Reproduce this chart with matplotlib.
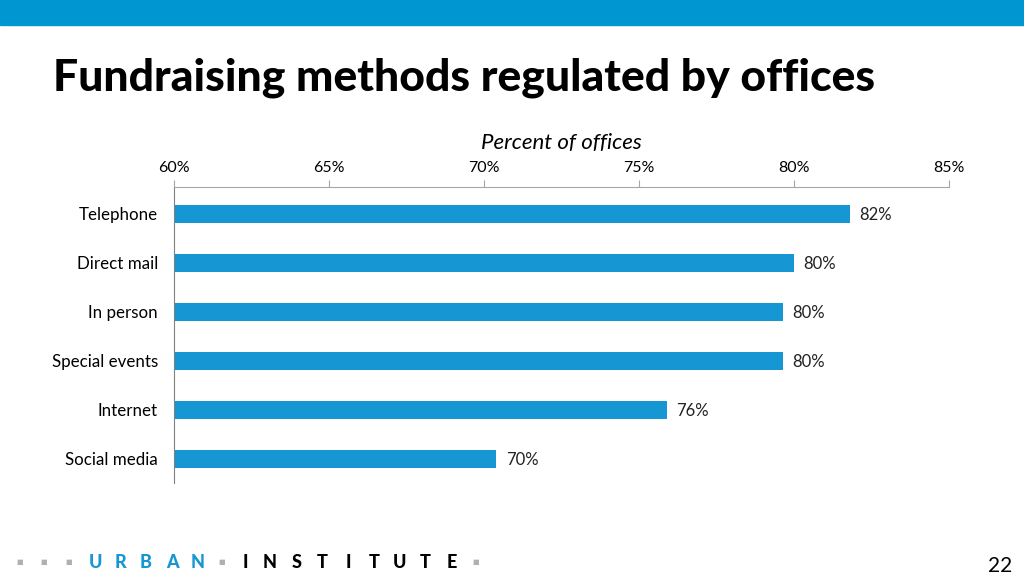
import matplotlib.pyplot as plt
from matplotlib.patches import Rectangle

# Data
methods = ['Telephone', 'Direct mail', 'In person', 'Special events', 'Internet', 'Social media']
percent = [81.8, 80.0, 79.65, 79.65, 75.9, 70.4]
value_labels = ['82%', '80%', '80%', '80%', '76%', '70%']
ticks = [60, 65, 70, 75, 80, 85]

blue = '#1696d2'
grey = '#a6a6a6'
plt.rcParams['font.family'] = ['Lato', 'DejaVu Sans']

fig = plt.figure(figsize=(10.24, 5.76), dpi=100)

# top banner
fig.patches.append(Rectangle((0, 1 - 25 / 576), 1, 25 / 576, transform=fig.transFigure,
                             color='#0096d2', zorder=0))
fig.text(53 / 1024, 1 - 90 / 576, 'Fundraising methods regulated by offices',
         fontsize=32, fontweight='black', color='black', ha='left', va='baseline')

ax = fig.add_axes([174 / 1024, 1 - 483 / 576, 775 / 1024, 296 / 576])
y = range(len(methods))
ax.barh(y, [p - 60 for p in percent], left=60, height=0.37, color=blue)
for i, (p, lab) in enumerate(zip(percent, value_labels)):
    ax.text(p + 0.3, i + 0.03, lab, va='center', ha='left', fontsize=12, color='#222222')

ax.set_xlim(60, 85)
ax.set_ylim(5.49, -0.55)
ax.set_yticks(list(y))
ax.set_yticklabels(methods, fontsize=12.2)
ax.tick_params(axis='y', length=0, pad=11.5)
ax.xaxis.tick_top()
ax.set_xticks(ticks)
ax.set_xticklabels([f'{t}%' for t in ticks], fontsize=11.5)
ax.tick_params(axis='x', length=5, color=grey, pad=4)
ax.xaxis.set_label_position('top')
ax.set_xlabel('Percent of offices', fontsize=16, style='italic', labelpad=8)
for s in ['right', 'bottom']:
    ax.spines[s].set_visible(False)
ax.spines['top'].set_color(grey)
ax.spines['left'].set_color('#808080')

# footer logo
for x in [20, 44, 69, 222, 476]:
    fig.text(x / 1024, 1 - 562 / 576, '■', fontsize=5, color='#b0b0b0', ha='center', va='center',
             family='DejaVu Sans')
for x, ch in zip([95, 120, 146, 172, 198], 'URBAN'):
    fig.text(x / 1024, 1 - 562 / 576, ch, fontsize=13, fontweight='black', color=blue,
             ha='center', va='center')
for x, ch in zip([245, 270, 297, 322, 348, 374, 400, 425, 452], 'INSTITUTE'):
    fig.text(x / 1024, 1 - 562 / 576, ch, fontsize=13, fontweight='black', color='black',
             ha='center', va='center')
fig.text(1000 / 1024, 1 - 566 / 576, '22', fontsize=15, color='black', ha='center', va='center')

plt.savefig('out.png', dpi=100)
